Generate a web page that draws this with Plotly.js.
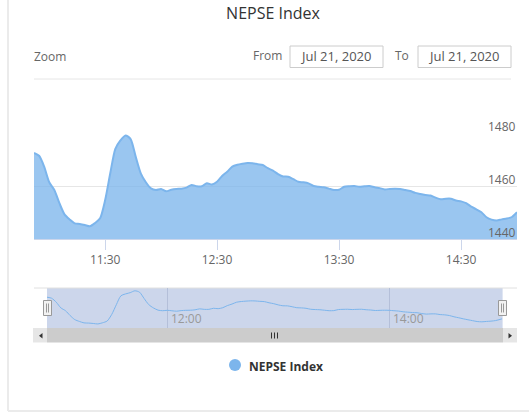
<!DOCTYPE html>
<html>
<head>
<meta charset="utf-8">
<script src="https://cdn.plot.ly/plotly-3.0.1.min.js"></script>
<style>html,body{margin:0;padding:0;background:#fff;overflow:hidden}</style>
</head>
<body>
<div id="chart" style="width:529px;height:414px"></div>
<script>
const chartTitle = 'NEPSE Index';
const seriesName = 'NEPSE Index';
const sessionDate = '2020-07-21';
const times = [
'10:55:00','10:57:30','11:00:00','11:02:30','11:05:00','11:07:30','11:10:00','11:12:30','11:15:00','11:17:30',
'11:20:00','11:22:30','11:25:00','11:27:30','11:30:00','11:32:30','11:35:00','11:40:00','11:42:30','11:45:00',
'11:47:30','11:50:00','11:52:30','11:55:00','11:57:30','12:00:00','12:05:00','12:07:30','12:10:00','12:12:30',
'12:15:00','12:17:30','12:20:00','12:22:30','12:25:00','12:27:30','12:30:00','12:32:30','12:35:00','12:37:30',
'12:40:00','12:42:30','12:45:00','12:47:30','12:50:00','12:52:30','12:55:00','12:57:30','13:00:00','13:02:30',
'13:05:00','13:07:30','13:10:00','13:12:30','13:15:00','13:17:30','13:20:00','13:22:30','13:25:00','13:27:30',
'13:30:00','13:32:30','13:35:00','13:37:30','13:40:00','13:42:30','13:45:00','13:47:30','13:50:00','13:52:30',
'13:55:00','13:57:30','14:00:00','14:02:30','14:05:00','14:07:30','14:10:00','14:12:30','14:15:00','14:17:30',
'14:20:00','14:22:30','14:25:00','14:27:30','14:30:00','14:32:30','14:35:00','14:37:30','14:40:00','14:45:00',
'14:47:30','14:50:00','14:52:30','14:55:00','14:57:30','15:01:00'];
const values = [
1472.5,1471.4,1467.3,1461.4,1458.5,1453.5,1449.3,1447.4,1445.9,1445.7,
1445.3,1444.8,1446.0,1447.8,1454.7,1464.8,1474.0,1477.2,1479.1,1477.7,
1471.1,1464.8,1461.4,1459.1,1458.5,1458.9,1458.0,1458.6,1458.9,1459.0,
1459.4,1460.4,1459.9,1459.9,1461.0,1460.6,1461.6,1463.8,1465.4,1467.3,
1468.0,1468.4,1468.7,1468.6,1468.2,1467.9,1466.7,1465.8,1464.5,1463.6,
1463.5,1462.6,1461.6,1461.4,1461.0,1460.0,1459.7,1459.5,1459.0,1458.5,
1458.6,1459.7,1459.9,1460.0,1459.7,1459.9,1460.0,1459.5,1459.2,1458.7,
1458.9,1459.0,1458.9,1458.5,1458.1,1457.4,1457.0,1456.6,1456.4,1455.6,
1455.0,1455.2,1455.2,1454.5,1454.2,1453.5,1452.2,1451.2,1450.1,1448.2,
1447.3,1447.0,1447.4,1447.7,1448.3,1450.1];
const mainTickVals = ['11:30:00','12:30:00','13:30:00','14:30:00'];
const mainTickText = ['11:30','12:30','13:30','14:30'];
const yTicks = [1440,1460,1480];
const navTickVals = ['2020-07-21 12:00:00','2020-07-21 14:00:00'];
const navTickText = ['12:00','14:00'];
const fromLabel = 'From', toLabel = 'To', zoomLabel = 'Zoom';
const fromDate = 'Jul 21, 2020', toDate = 'Jul 21, 2020';

const W = 529, H = 414, FONT = '"Open Sans", sans-serif';
const px = v => v / W, py = v => 1 - v / H;
const rect = (x0, y0, x1, y1, fill, line, extra) => Object.assign({
  type: 'rect', xref: 'paper', yref: 'paper', x0: px(x0), x1: px(x1), y0: py(y0), y1: py(y1),
  fillcolor: fill, line: line ? {color: line, width: 1} : {width: 0}, layer: 'below'}, extra || {});
const seg = (x0, y0, x1, y1, color, width, layer) => ({
  type: 'line', xref: 'paper', yref: 'paper', x0: px(x0), x1: px(x1), y0: py(y0), y1: py(y1),
  line: {color, width: width || 1}, layer: layer || 'below'});
const tri = (pts, color) => ({
  type: 'path', xref: 'paper', yref: 'paper', layer: 'above', fillcolor: color, line: {width: 0},
  path: 'M' + pts.map(p => px(p[0]) + ',' + py(p[1])).join(' L') + ' Z'});
const text = (t, x, y, anchor, size, color, weight) => ({
  text: t, xref: 'paper', yref: 'paper', x: px(x), y: py(y), xanchor: anchor, yanchor: 'middle',
  showarrow: false, font: {family: FONT, size, color, weight: weight || 400}});

const navX = times.map(t => sessionDate + ' ' + t);

const traces = [
  {x: times, y: values, type: 'scatter', mode: 'lines', fill: 'tozeroy',
   fillcolor: 'rgba(124,181,236,0.77)', line: {color: '#7cb5ec', width: 2, shape: 'spline', smoothing: 0.7},
   name: seriesName, showlegend: false, xaxis: 'x', yaxis: 'y', hoverinfo: 'x+y'},
  {x: navX, y: values, type: 'scatter', mode: 'lines', line: {color: '#7cb5ec', width: 1, shape: 'spline', smoothing: 0.7},
   name: seriesName, showlegend: false, xaxis: 'x2', yaxis: 'y2', hoverinfo: 'skip'}
];

const layout = {
  width: W, height: H, margin: {l: 0, r: 0, t: 0, b: 0}, autosize: false,
  paper_bgcolor: '#fff', plot_bgcolor: 'rgba(0,0,0,0)', showlegend: false,
  font: {family: FONT, color: '#666', size: 12},
  title: {text: chartTitle, x: px(273), xanchor: 'center', xref: 'paper', y: py(13), yanchor: 'middle',
          yref: 'paper', font: {family: FONT, size: 16, color: '#333'}},
  xaxis: {type: 'category', domain: [px(34), px(517)], range: [0, times.length - 1], anchor: 'y',
          tickmode: 'array', tickvals: mainTickVals, ticktext: mainTickText, ticks: 'outside', ticklen: 10,
          tickcolor: '#ccd6eb', tickwidth: 1, showline: true, linecolor: '#ccd6eb', showgrid: false,
          tickfont: {family: FONT, size: 12, color: '#666'}, zeroline: false, fixedrange: true},
  yaxis: {domain: [py(239), py(133)], range: [1440, 1480], anchor: 'x', side: 'right',
          tickmode: 'array', tickvals: yTicks, ticks: '', ticklabelposition: 'outside',
          ticklabelstandoff: -30, ticklabelshift: -6, layer: 'above traces',
          gridcolor: '#e6e6e6', gridwidth: 1, zeroline: false, showline: false,
          tickfont: {family: FONT, size: 12, color: '#666'}, fixedrange: true},
  xaxis2: {type: 'date', domain: [px(47), px(502.6)], range: ['2020-07-21 10:55:00', '2020-07-21 15:01:15'],
           anchor: 'y2', tickmode: 'array', tickvals: navTickVals, ticktext: navTickText, ticks: '',
           ticklabelposition: 'inside', ticklabelshift: 19, showgrid: true, gridcolor: '#b4bfd9', gridwidth: 1,
           showline: false, zeroline: false, tickfont: {family: FONT, size: 12, color: '#999'}, fixedrange: true},
  yaxis2: {domain: [py(328), py(288)], range: [1440.6, 1482], anchor: 'x2', showticklabels: false,
           showgrid: false, zeroline: false, ticks: '', fixedrange: true},
  shapes: [
    seg(8, 0, 8, 411, '#ebebeb', 2),
    seg(8, 411, 529, 411, '#ebebeb', 2),
    seg(34, 79, 511, 79, '#e6e6e6', 1),
    rect(290, 46, 383, 67.5, '#fff', '#cccccc'),
    rect(418, 46, 511, 67.5, '#fff', '#cccccc'),
    rect(47, 288, 502.6, 328, '#ccd6eb', null),
    seg(34, 288, 517, 288, '#e0e0e0', 1),
    rect(47, 328, 503, 342.5, '#cccccc', null),
    rect(33, 328, 47, 342.5, '#e6e6e6', null),
    rect(503, 328, 517, 342.5, '#e6e6e6', null),
    tri([[42.5, 333], [39, 335.8], [42.5, 338.5]], '#333'),
    tri([[508.5, 333], [512, 335.8], [508.5, 338.5]], '#333'),
    seg(271.5, 332.5, 271.5, 338.5, '#333', 1, 'above'),
    seg(274.5, 332.5, 274.5, 338.5, '#333', 1, 'above'),
    seg(277.5, 332.5, 277.5, 338.5, '#333', 1, 'above'),
    rect(43.5, 300.5, 51.5, 315.5, '#f2f2f2', '#999999', {layer: 'above'}),
    seg(46.5, 303.5, 46.5, 312.5, '#999999', 1, 'above'),
    seg(48.5, 303.5, 48.5, 312.5, '#999999', 1, 'above'),
    rect(498.5, 300.5, 506.5, 315.5, '#f2f2f2', '#999999', {layer: 'above'}),
    seg(501.5, 303.5, 501.5, 312.5, '#999999', 1, 'above'),
    seg(503.5, 303.5, 503.5, 312.5, '#999999', 1, 'above'),
    {type: 'circle', xref: 'paper', yref: 'paper', x0: px(229), x1: px(241), y0: py(371), y1: py(359),
     fillcolor: '#7cb5ec', line: {width: 0}, layer: 'above'}
  ],
  annotations: [
    text(zoomLabel, 32, 57, 'left', 12, '#666'),
    text(fromLabel, 284, 56, 'right', 12, '#666'),
    text(fromDate, 335, 56, 'center', 13, '#555'),
    text(toLabel, 402, 56, 'center', 12, '#666'),
    text(toDate, 463, 56, 'center', 13, '#555'),
    text(seriesName, 247, 366, 'left', 12, '#333', 700)
  ]
};
Plotly.newPlot('chart', traces, layout, {displayModeBar: false, staticPlot: true});
</script>
</body>
</html>
